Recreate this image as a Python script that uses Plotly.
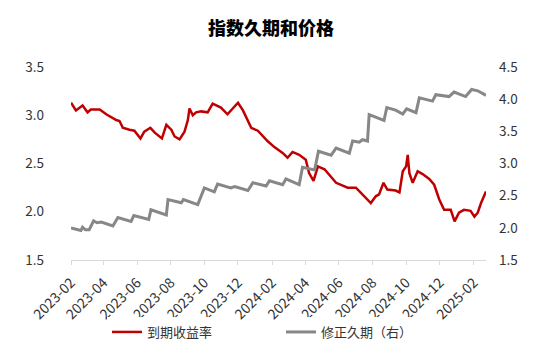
import plotly.graph_objects as go

yield_dates = ["2023-02-01","2023-02-10","2023-02-22","2023-03-03","2023-03-09","2023-03-25","2023-04-06",
    "2023-04-24","2023-04-30","2023-05-06","2023-05-18","2023-05-27","2023-06-07","2023-06-14","2023-06-25",
    "2023-07-03","2023-07-16","2023-07-24","2023-08-02","2023-08-08","2023-08-17","2023-08-26","2023-09-01",
    "2023-09-04","2023-09-10","2023-09-16","2023-09-25","2023-10-07","2023-10-16","2023-10-31","2023-11-12",
    "2023-12-01","2023-12-10","2023-12-25","2024-01-06","2024-01-24","2024-02-05","2024-02-20","2024-02-29",
    "2024-03-09","2024-03-21","2024-04-02","2024-04-08","2024-04-16","2024-04-24","2024-05-06","2024-05-27",
    "2024-06-17","2024-07-02","2024-07-14","2024-07-29","2024-08-07","2024-08-13","2024-08-21","2024-08-28",
    "2024-09-12","2024-09-19","2024-09-25","2024-10-01","2024-10-04","2024-10-07","2024-10-13","2024-10-22",
    "2024-10-31","2024-11-12","2024-11-21","2024-11-30","2024-12-09","2024-12-21","2024-12-28","2025-01-05",
    "2025-01-14","2025-01-26","2025-02-02","2025-02-08","2025-02-14","2025-02-23"]
yield_values = [3.13,3.05,3.10,3.03,3.06,3.06,3.01,
    2.95,2.94,2.87,2.85,2.84,2.76,2.83,2.87,
    2.82,2.76,2.90,2.85,2.78,2.75,2.83,2.95,
    3.07,3.00,3.03,3.04,3.03,3.12,3.08,3.01,
    3.13,3.05,2.87,2.84,2.73,2.67,2.61,2.56,
    2.62,2.59,2.54,2.40,2.32,2.47,2.44,2.30,
    2.25,2.25,2.18,2.09,2.16,2.18,2.30,2.23,
    2.22,2.20,2.42,2.47,2.59,2.40,2.30,2.42,
    2.39,2.34,2.28,2.13,2.02,2.02,1.90,1.99,
    2.02,2.01,1.95,1.99,2.09,2.21]

dur_dates = ["2023-02-01","2023-02-19","2023-02-22","2023-02-27","2023-03-06","2023-03-14","2023-03-20",
    "2023-03-28","2023-04-18","2023-04-27","2023-05-21","2023-05-26","2023-06-22","2023-06-26","2023-07-24",
    "2023-07-27","2023-08-20","2023-08-24","2023-09-19","2023-10-01","2023-10-19","2023-10-25","2023-11-18",
    "2023-11-25","2023-12-19","2023-12-28","2024-01-21","2024-01-27","2024-02-20","2024-02-26","2024-03-21",
    "2024-03-27","2024-04-18","2024-04-25","2024-05-18","2024-05-27","2024-06-20","2024-06-26","2024-07-08",
    "2024-07-14","2024-07-23","2024-07-26","2024-08-22","2024-08-27","2024-09-12","2024-09-25","2024-10-02",
    "2024-10-19","2024-10-25","2024-11-18","2024-11-24","2024-12-18","2024-12-27","2025-01-17","2025-01-28",
    "2025-02-08","2025-02-23"]
dur_values = [2.00,1.96,2.01,1.97,1.97,2.11,2.08,
    2.09,2.03,2.16,2.10,2.19,2.13,2.28,2.20,
    2.44,2.39,2.44,2.36,2.62,2.56,2.68,2.62,
    2.64,2.58,2.70,2.65,2.73,2.67,2.76,2.67,
    2.94,2.90,3.19,3.13,3.24,3.16,3.35,3.33,
    3.37,3.35,3.76,3.67,3.87,3.83,3.77,3.85,
    3.79,4.02,3.97,4.07,4.04,4.11,4.04,4.15,
    4.13,4.06]

left_ticks = [1.5, 2.0, 2.5, 3.0, 3.5]
right_ticks = [1.5, 2.0, 2.5, 3.0, 3.5, 4.0, 4.5]

FONT = "Noto Sans CJK SC"
TXT = "#333333"

fig = go.Figure()
fig.add_trace(go.Scatter(x=yield_dates, y=yield_values, mode="lines", name="到期收益率", legend="legend",
                         line=dict(color="#c00000", width=2.5)))
fig.add_trace(go.Scatter(x=dur_dates, y=dur_values, mode="lines", name="修正久期（右）", yaxis="y2",
                         legend="legend2", line=dict(color="#878787", width=3)))

leg_y = -(324 - 252) / 193
fig.update_layout(
    width=552, height=360,
    margin=dict(l=63, r=74, t=59, b=108),
    paper_bgcolor="white", plot_bgcolor="white",
    font=dict(family=FONT, size=13, color=TXT),
    title=dict(text="指数久期和价格", x=263/552, xanchor="center", y=1-21/360, yanchor="middle",
               font=dict(family=FONT, size=18, color="#000000", weight=900)),
    showlegend=True,
    legend=dict(orientation="h", x=(99 - 63) / 415, xanchor="left", y=leg_y, yanchor="middle",
                font=dict(size=13, color=TXT), itemwidth=30),
    legend2=dict(orientation="h", x=(273 - 63) / 415, xanchor="left", y=leg_y, yanchor="middle",
                 font=dict(size=13, color=TXT), itemwidth=30),
    xaxis=dict(type="date", range=["2023-02-01", "2025-02-23"], tick0="2023-02-01", dtick="M2",
               tickformat="%Y-%m", tickangle=-45, showgrid=False, showline=True, linecolor="#d9d9d9",
               linewidth=1, ticks="outside", ticklen=4, tickcolor="#d9d9d9", zeroline=False,
               ticklabelstandoff=4, tickfont=dict(size=14, color=TXT)),
    yaxis=dict(range=[1.5, 3.5], tickvals=left_ticks, tickformat=".1f", showgrid=False, zeroline=False,
               showline=False, ticks="", ticklabelstandoff=26, tickfont=dict(size=13.5, color=TXT)),
    yaxis2=dict(range=[1.5, 4.5], tickvals=right_ticks, tickformat=".1f", overlaying="y", side="right",
                showgrid=False, zeroline=False, showline=False, ticks="", ticklabelstandoff=12,
                tickfont=dict(size=13.5, color=TXT)),
)

fig.write_html("out.html")
